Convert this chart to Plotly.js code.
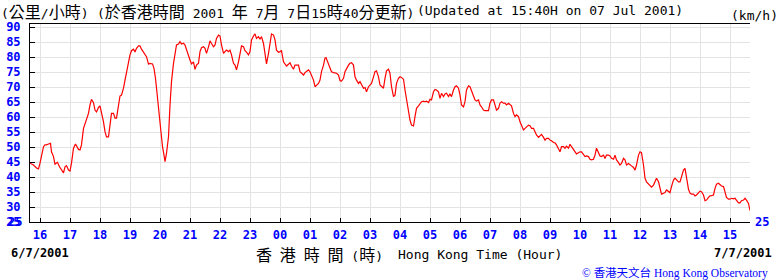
<!DOCTYPE html>
<html>
<head>
<meta charset="utf-8">
<script src="https://cdn.plot.ly/plotly-3.0.1.min.js"></script>
<style>html,body{margin:0;padding:0;background:#fff;}#chart{width:780px;height:280px;}</style>
</head>
<body>
<div id="chart"></div>
<script>
// minutes after 2001-07-06 15:40 (Hong Kong Time)
var minutes = [
0,7,13,17,20,23,27,30,33,37,41,43,47,50,55,59,63,67,70,73,77,80,83,87,91,97,100,103,107,110,113,117,120,123,127,130,133,137,140,143,147,150,153,157,160,163,167,170,173,177,180,183,187,190,193,197,200,203,207,210,213,217,220,223,227,230,233,237,240,245,248,251,255,258,261,265,268,270,273,277,280,283,287,290,293,297,300,303,307,310,313,317,320,323,327,330,333,337,340,343,347,350,353,357,360,363,367,370,373,377,380,383,387,390,393,397,400,403,407,410,413,417,420,423,427,430,433,437,440,443,447,450,453,457,460,463,467,470,473,477,480,483,487,490,493,497,500,
503,507,510,513,517,520,523,527,530,533,537,540,543,547,550,553,557,560,563,567,570,573,577,580,583,587,590,592,597,600,603,607,610,613,617,620,623,627,630,633,637,640,643,647,650,653,657,660,663,667,670,673,677,680,683,687,690,693,697,700,703,707,710,713,717,720,723,727,730,733,737,740,743,747,750,753,757,760,763,767,770,773,777,780,783,787,790,793,797,800,803,807,810,813,817,820,823,827,830,833,837,840,843,847,850,853,857,860,863,867,870,873,877,880,883,887,890,893,897,900,903,907,910,913,917,920,923,927,930,933,937,940,943,947,950,953,957,960,
963,967,970,973,977,980,983,987,990,993,997,1000,1003,1007,1010,1013,1017,1020,1023,1027,1030,1033,1037,1040,1043,1047,1050,1053,1057,1060,1063,1067,1070,1073,1077,1080,1083,1087,1090,1093,1097,1100,1103,1107,1110,1113,1117,1120,1123,1127,1130,1133,1137,1140,1143,1147,1150,1153,1157,1160,1163,1167,1170,1173,1177,1180,1183,1187,1190,1193,1197,1200,1203,1207,1210,1213,1217,1220,1223,1227,1230,1233,1237,1240,1243,1247,1250,1253,1257,1260,1263,1267,1270,1273,1277,1280,1283,1287,1290,1293,1297,1300,1303,1307,1310,1313,1317,1320,1323,1327,1330,1333,1337,1340,1343,1347,1350,1353,1357,1360,1363,1367,1370,1373,1377,1380,1383,1387,1390,1393,1397,1400,1403,1407,1410,1413,1417,1420,1423,1427,1430,1433,1437,1440
];
// wind speed, km/h
var windKmh = [
44.6,44.0,43.0,42.7,44.6,46.8,50.1,50.7,50.7,51.0,51.2,48.4,46.8,44.3,44.9,43.4,42.3,41.4,43.4,43.8,42.3,42.0,44.6,49.6,51.0,49.2,49.0,50.7,56.2,57.9,59.6,61.2,64.0,65.9,64.8,62.3,61.7,63.2,63.7,61.8,58.4,55.1,53.4,53.4,56.8,61.2,61.2,59.6,59.6,64.0,67.0,67.3,69.6,72.3,74.9,79.0,80.7,82.1,82.6,81.7,82.9,83.7,83.7,82.6,81.6,81.2,80.1,77.6,77.9,77.7,76.2,72.9,65.7,60.1,54.6,50.1,47.3,45.1,47.9,53.4,64.0,71.8,77.9,81.2,84.0,84.3,85.1,84.3,84.6,84.0,82.3,80.1,79.0,77.7,78.4,75.9,77.3,77.9,81.8,83.1,83.4,82.9,81.2,83.4,85.4,84.5,83.4,84.0,86.2,87.3,87.0,84.0,81.2,81.8,82.3,81.8,82.3,80.7,77.9,77.3,75.7,78.4,80.7,83.7,83.4,82.1,81.6,80.7,81.8,85.7,87.0,87.7,86.2,86.8,85.9,86.8,84.5,80.7,77.7,81.2,84.5,87.7,87.3,85.7,82.3,81.6,81.8,
82.1,78.4,77.6,77.0,77.6,78.1,77.0,75.9,77.3,77.3,77.3,75.1,74.6,74.0,74.8,75.1,75.7,75.1,74.0,72.3,70.1,70.7,71.2,72.3,75.1,77.3,79.6,79.8,77.9,76.2,75.1,74.8,74.6,74.6,74.0,72.1,72.0,72.9,75.1,76.2,77.3,77.9,78.1,77.3,73.4,72.3,71.2,71.8,70.7,69.6,69.8,68.4,70.1,70.7,71.2,73.4,75.1,75.4,73.4,70.7,70.1,69.6,72.9,75.4,75.9,74.6,70.1,66.8,67.3,71.2,72.9,73.4,73.2,72.6,69.0,65.7,62.3,59.0,57.3,57.0,60.1,62.9,63.7,64.6,65.1,65.3,65.1,65.3,64.8,65.9,65.7,68.4,69.2,69.0,68.4,66.2,67.9,66.8,67.7,67.9,66.8,67.7,66.8,69.0,70.1,70.4,69.6,67.3,64.0,63.4,65.1,69.0,70.4,70.1,69.0,67.0,65.7,65.3,65.7,64.0,63.4,62.3,62.1,62.1,62.1,64.6,65.7,65.7,64.0,62.3,62.9,64.6,65.1,64.6,64.6,64.0,64.6,64.0,
63.7,61.2,60.1,60.7,60.1,58.4,57.3,55.7,56.2,56.8,57.3,57.1,56.2,56.2,55.1,54.0,53.2,53.7,54.2,53.2,52.3,52.9,52.9,52.3,52.1,51.5,51.4,50.7,49.6,48.4,50.1,50.1,49.6,50.3,49.6,50.9,50.1,49.0,48.1,47.7,48.1,48.4,48.4,47.3,46.8,47.0,46.8,45.9,45.7,45.9,47.3,49.6,48.4,47.0,46.8,47.3,46.2,47.3,47.3,47.0,46.2,45.9,47.3,45.7,44.8,44.0,44.5,46.2,45.7,44.0,44.5,44.0,43.7,43.2,42.3,44.0,47.3,48.4,48.1,44.0,39.6,38.4,37.7,37.0,36.6,37.3,38.4,39.6,38.4,36.2,34.3,34.6,34.8,35.7,35.0,34.8,36.8,39.0,39.6,39.0,38.4,38.4,40.1,42.3,42.9,40.1,35.9,34.6,34.3,34.3,33.7,34.0,34.8,35.3,35.1,34.0,32.1,32.3,33.2,33.7,33.8,34.0,36.2,37.6,37.9,37.3,37.0,36.8,35.1,33.2,32.6,32.6,32.9,32.7,32.9,32.3,31.4,31.4,32.1,32.3,32.9,32.3,31.2,28.8
];
// y-axis tick values (km/h)
var yTicks = [25, 30, 35, 40, 45, 50, 55, 60, 65, 70, 75, 80, 85, 90];
var yMin = 25, yMax = 91;

var startMs = Date.UTC(2001, 6, 6, 15, 40);
var endMs = Date.UTC(2001, 6, 7, 15, 40);
var xTimes = minutes.map(function(m){ return startMs + m * 60000; });

var blue = '#0000ff';
var mono = "'DejaVu Sans Mono', 'Liberation Mono', monospace";
function C(s, size){ return '<span style="font-family:' + "'Noto Sans CJK TC'" + ';font-size:' + (size||16) + 'px">' + s + '</span>'; }

// pixel -> paper helpers (plot area 30..750 x 24..222)
function px(x){ return (x - 30) / 720; }
function py(y){ return (222 - y) / 198; }

function ann(text, x, y, opts){
  var a = {text: text, xref: 'paper', yref: 'paper', x: px(x), y: py(y),
    xanchor: 'left', yanchor: 'middle', showarrow: false, borderpad: 0,
    font: {family: mono, size: 13, color: '#000'}};
  for (var k in opts) a[k] = opts[k];
  return a;
}

var trace = {x: xTimes, y: windKmh, type: 'scatter', mode: 'lines',
  line: {color: '#ff0000', width: 1.2}, hoverinfo: 'skip', showlegend: false};

var tickFont = {family: mono, size: 12, color: blue, weight: 'bold'};
var yCommon = {range: [yMin, yMax], tickmode: 'array', tickvals: yTicks, ticktext: yTicks.map(String),
  ticks: 'inside', ticklen: 5, tickcolor: '#000', tickwidth: 1, showline: true, linecolor: '#000', linewidth: 1,
  tickfont: tickFont, zeroline: false, fixedrange: true};

// Plotly hides the tick label sitting on the x-axis corner; draw the lowest tick label via annotations on the y axes
var lowLabel = String(yTicks[0]);
var cornerLabels = [
  {text: lowLabel, xref: 'paper', yref: 'y', x: px(23), y: yTicks[0], xanchor: 'right', yanchor: 'middle',
   showarrow: false, borderpad: 0, font: tickFont},
  {text: lowLabel, xref: 'paper', yref: 'y', x: px(754), y: yTicks[0], xanchor: 'left', yanchor: 'middle',
   showarrow: false, borderpad: 0, font: tickFont}
];

var layout = {
  width: 780, height: 280,
  margin: {l: 30, r: 30, t: 24, b: 58, pad: 0},
  paper_bgcolor: '#fff', plot_bgcolor: '#fff',
  showlegend: false,
  xaxis: {type: 'date', range: [startMs, endMs], dtick: 3600000, tickformat: '%H',
    ticks: 'inside', ticklen: 4, tickcolor: '#000', tickwidth: 1,
    showline: true, linecolor: '#000', linewidth: 1, mirror: true,
    showgrid: true, gridcolor: '#e3e3e3', gridwidth: 1,
    tickfont: tickFont, ticklabelstandoff: 2, fixedrange: true},
  yaxis: Object.assign({}, yCommon, {side: 'left', showgrid: true, gridcolor: '#e3e3e3', gridwidth: 1, ticklabelstandoff: 6}),
  yaxis2: Object.assign({}, yCommon, {side: 'right', overlaying: 'y', anchor: 'x', showgrid: false, ticklabelstandoff: 2}),
  annotations: cornerLabels.concat([
    ann('(' + C('公里') + '/' + C('小時') + ')', 0, 11),
    ann('(' + C('於香港時間') + ' 2001 ' + C('年') + ' 7' + C('月') + ' 7' + C('日') + '15' + C('時') + '40' + C('分更新') + ')', 96, 11),
    ann('(Updated at 15:40H on 07 Jul 2001)', 416, 11),
    ann('(km/h)', 779, 16, {xanchor: 'right'}),
    ann('6/7/2001', 10, 253, {font: {family: mono, size: 12, color: '#000', weight: 'bold'}}),
    ann('7/7/2001', 713, 253, {font: {family: mono, size: 12, color: '#000', weight: 'bold'}}),
    ann(C('香') + ' ' + C('港') + ' ' + C('時') + ' ' + C('間') + ' (' + C('時') + ')', 255, 254),
    ann('Hong Kong Time (Hour)', 397, 254),
    ann('© ' + C('香港天文台', 11.5) + ' Hong Kong Observatory', 769, 272,
      {xanchor: 'right', font: {family: "'Liberation Serif', 'DejaVu Serif', serif", size: 11.5, color: blue}})
  ])
};

Plotly.newPlot('chart', [trace], layout, {staticPlot: true, displayModeBar: false});
</script>
</body>
</html>
